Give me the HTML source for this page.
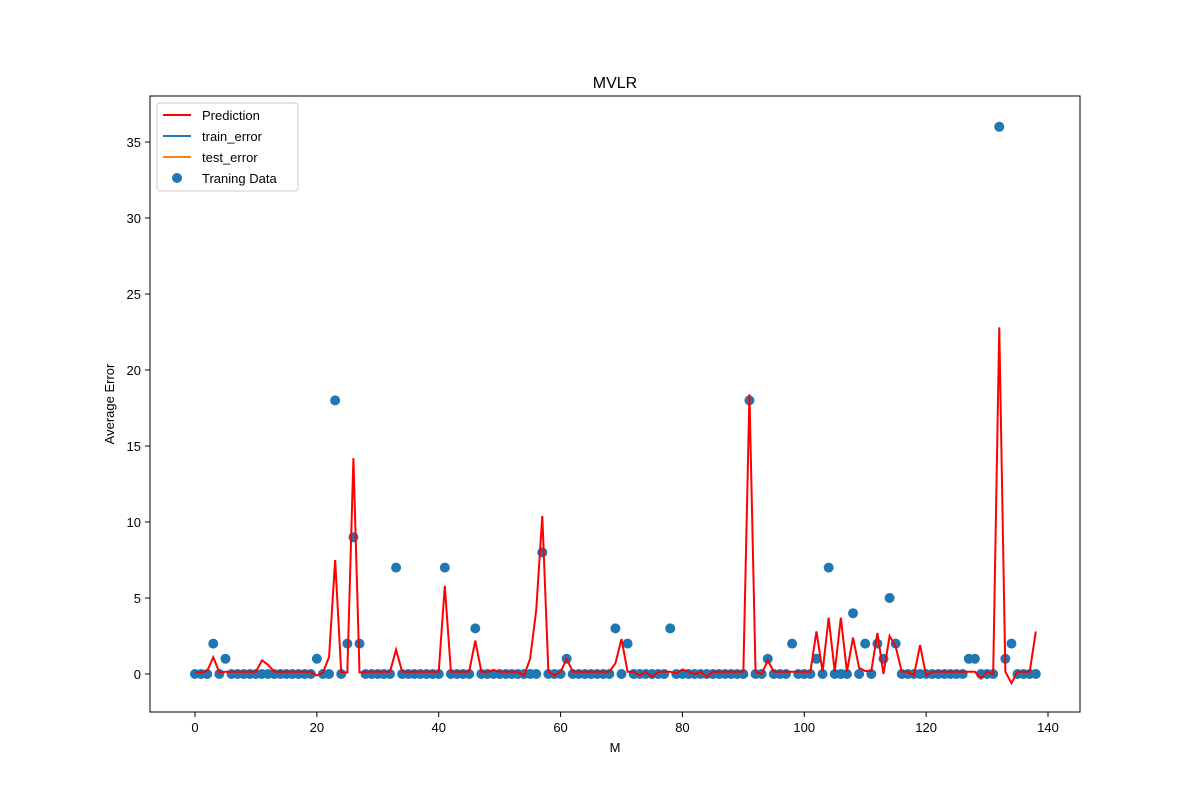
<!DOCTYPE html>
<html><head><meta charset="utf-8"><style>
body{margin:0;background:#fff;font-family:"Liberation Sans","DejaVu Sans",sans-serif}
svg{display:block}
</style></head><body>
<svg id="chart" width="1200" height="800" xmlns="http://www.w3.org/2000/svg">
<rect width="1200" height="800" fill="#fff"/>
<text x="615" y="88" font-size="16" text-anchor="middle">MVLR</text>
<g id="marks"></g>
<rect x="150" y="96" width="930" height="616" fill="none" stroke="#000" stroke-width="1"/>
<g id="axes" font-size="13"></g>
<text x="615" y="752" font-size="13" text-anchor="middle">M</text>
<text transform="translate(114,404) rotate(-90)" font-size="13" text-anchor="middle">Average Error</text>
<g>
<rect x="157" y="103" width="141" height="88" fill="#fff" stroke="#ccc" rx="3"/>
<line x1="163" y1="115" x2="191" y2="115" stroke="red" stroke-width="2"/>
<text x="202" y="120" font-size="13">Prediction</text>
<line x1="163" y1="136" x2="191" y2="136" stroke="#1f77b4" stroke-width="2"/>
<text x="202" y="141" font-size="13">train_error</text>
<line x1="163" y1="157" x2="191" y2="157" stroke="#ff7f0e" stroke-width="2"/>
<text x="202" y="162" font-size="13">test_error</text>
<circle cx="177" cy="178" r="5" fill="#1f77b4"/>
<text x="202" y="183" font-size="13">Traning Data</text>
</g>
</svg>
<script>
const xTicks=[0,20,40,60,80,100,120,140];
const yTicks=[0,5,10,15,20,25,30,35];
const pointIdx=[3,5,20,23,25,26,27,33,41,46,57,61,69,71,78,91,94,98,102,104,108,110,112,113,114,115,127,128,132,133,134];
const pointVal=[2,1,1,18,2,9,2,7,7,3,8,1,3,2,3,18,1,2,1,7,4,2,2,1,5,2,1,1,36,1,2];
const predOverrides=[[0,0.1],[1,0.1],[2,0.2],[3,1.1],[4,0.1],[11,0.9],[12,0.6],[20,-0.1],[21,0.1],[22,1.1],[23,7.5],[24,0.1],[25,0.1],[26,14.2],[27,0.1],[33,1.6],[41,5.8],[46,2.2],[49,0.25],[54,-0.1],[55,1],[56,4.2],[57,10.4],[59,-0.1],[61,1],[69,0.7],[70,2.3],[73,-0.1],[75,-0.2],[79,0.05],[80,0.3],[82,0],[84,-0.2],[91,18.4],[93,0],[94,0.9],[102,2.8],[104,3.7],[106,3.7],[108,2.4],[109,0.4],[110,0.2],[111,0.2],[112,2.7],[113,0],[114,2.5],[115,1.8],[118,-0.1],[119,1.9],[120,-0.1],[129,-0.3],[131,0],[132,22.8],[134,-0.6],[138,2.8]];
const N=139;
const X=v=>195+v*(1048-195)/140;
const Y=v=>674-v*(674-142)/35;
const NS="http://www.w3.org/2000/svg";
const marks=document.getElementById('marks'),axes=document.getElementById('axes');
const data=new Array(N).fill(0);pointIdx.forEach((i,k)=>data[i]=pointVal[k]);
const pred=new Array(N).fill(0.15);predOverrides.forEach(([i,v])=>pred[i]=v);
for(let i=0;i<N;i++){const c=document.createElementNS(NS,'circle');c.setAttribute('cx',X(i));c.setAttribute('cy',Y(data[i]));c.setAttribute('r',5);c.setAttribute('fill','#1f77b4');


marks.appendChild(c);}
const pl=document.createElementNS(NS,'polyline');pl.setAttribute('points',pred.map((v,i)=>X(i)+','+Y(v)).join(' '));pl.setAttribute('fill','none');pl.setAttribute('stroke','red');pl.setAttribute('stroke-width','2');


marks.appendChild(pl);
xTicks.forEach(t=>{const l=document.createElementNS(NS,'line');l.setAttribute('x1',X(t));l.setAttribute('x2',X(t));l.setAttribute('y1',712);l.setAttribute('y2',717);l.setAttribute('stroke','#000');axes.appendChild(l);
const s=document.createElementNS(NS,'text');s.setAttribute('x',X(t));s.setAttribute('y',732);s.setAttribute('text-anchor','middle');s.textContent=t;


axes.appendChild(s);});
yTicks.forEach(t=>{const l=document.createElementNS(NS,'line');l.setAttribute('x1',145);l.setAttribute('x2',150);l.setAttribute('y1',Y(t));l.setAttribute('y2',Y(t));l.setAttribute('stroke','#000');axes.appendChild(l);
const s=document.createElementNS(NS,'text');s.setAttribute('x',141);s.setAttribute('y',Y(t)+5);s.setAttribute('text-anchor','end');s.textContent=t;


axes.appendChild(s);});
</script>
</body></html>
